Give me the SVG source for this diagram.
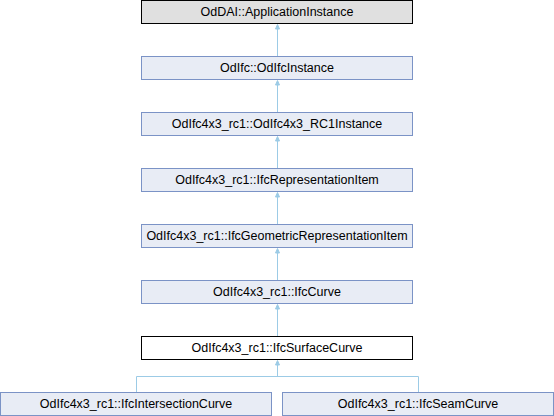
<svg xmlns="http://www.w3.org/2000/svg" width="554" height="416" viewBox="0 0 554 416">
<style>
rect.n{fill:#e8ecf5;stroke:#7b93c6;stroke-width:1}
rect.u{fill:#e0e0e0;stroke:#000000;stroke-width:1}
rect.c{fill:#ffffff;stroke:#000000;stroke-width:1}
text{font-family:"Liberation Sans",Arial,sans-serif;font-size:12.5px;fill:#000000;text-anchor:middle}
.e{fill:none;stroke:#9ccbe6;stroke-width:1}
.a{fill:#9ccbe6;stroke:#9ccbe6;stroke-width:1}
</style>
<rect width="554" height="416" fill="#ffffff"/>
<g id="connectors">
<path class="e" d="M277.5,29 V56.5"/>
<polygon class="a" points="277.5,24.5 275.5,29 279.5,29"/>
<path class="e" d="M277.5,85 V112.5"/>
<polygon class="a" points="277.5,80.5 275.5,85 279.5,85"/>
<path class="e" d="M277.5,141 V168.5"/>
<polygon class="a" points="277.5,136.5 275.5,141 279.5,141"/>
<path class="e" d="M277.5,197 V224.5"/>
<polygon class="a" points="277.5,192.5 275.5,197 279.5,197"/>
<path class="e" d="M277.5,253 V280.5"/>
<polygon class="a" points="277.5,248.5 275.5,253 279.5,253"/>
<path class="e" d="M277.5,309 V336.5"/>
<polygon class="a" points="277.5,304.5 275.5,309 279.5,309"/>
<path class="e" d="M277.5,365 V376.5 M136.5,392.5 V376.5 H418.5 V392.5"/>
<polygon class="a" points="277.5,360.5 275.5,365 279.5,365"/>
</g>
<g id="node_ApplicationInstance">
<rect class="u" x="141.5" y="0.5" width="271" height="23"/>
<text x="277" y="15.5">OdDAI::ApplicationInstance</text>
</g>
<g id="node_OdIfcInstance">
<rect class="n" x="141.5" y="56.5" width="271" height="23"/>
<text x="277" y="71.5">OdIfc::OdIfcInstance</text>
</g>
<g id="node_RC1Instance">
<rect class="n" x="141.5" y="112.5" width="271" height="23"/>
<text x="277" y="127.5">OdIfc4x3_rc1::OdIfc4x3_RC1Instance</text>
</g>
<g id="node_IfcRepresentationItem">
<rect class="n" x="141.5" y="168.5" width="271" height="23"/>
<text x="277" y="183.5">OdIfc4x3_rc1::IfcRepresentationItem</text>
</g>
<g id="node_IfcGeometricRepresentationItem">
<rect class="n" x="141.5" y="224.5" width="271" height="23"/>
<text x="277" y="239.5">OdIfc4x3_rc1::IfcGeometricRepresentationItem</text>
</g>
<g id="node_IfcCurve">
<rect class="n" x="141.5" y="280.5" width="271" height="23"/>
<text x="277" y="295.5">OdIfc4x3_rc1::IfcCurve</text>
</g>
<g id="node_IfcSurfaceCurve">
<rect class="c" x="141.5" y="336.5" width="271" height="23"/>
<text x="277" y="351.5">OdIfc4x3_rc1::IfcSurfaceCurve</text>
</g>
<g id="node_IfcIntersectionCurve">
<rect class="n" x="0.5" y="392.5" width="271" height="23"/>
<text x="136" y="407.5">OdIfc4x3_rc1::IfcIntersectionCurve</text>
</g>
<g id="node_IfcSeamCurve">
<rect class="n" x="282.5" y="392.5" width="271" height="23"/>
<text x="418" y="407.5">OdIfc4x3_rc1::IfcSeamCurve</text>
</g>
</svg>
